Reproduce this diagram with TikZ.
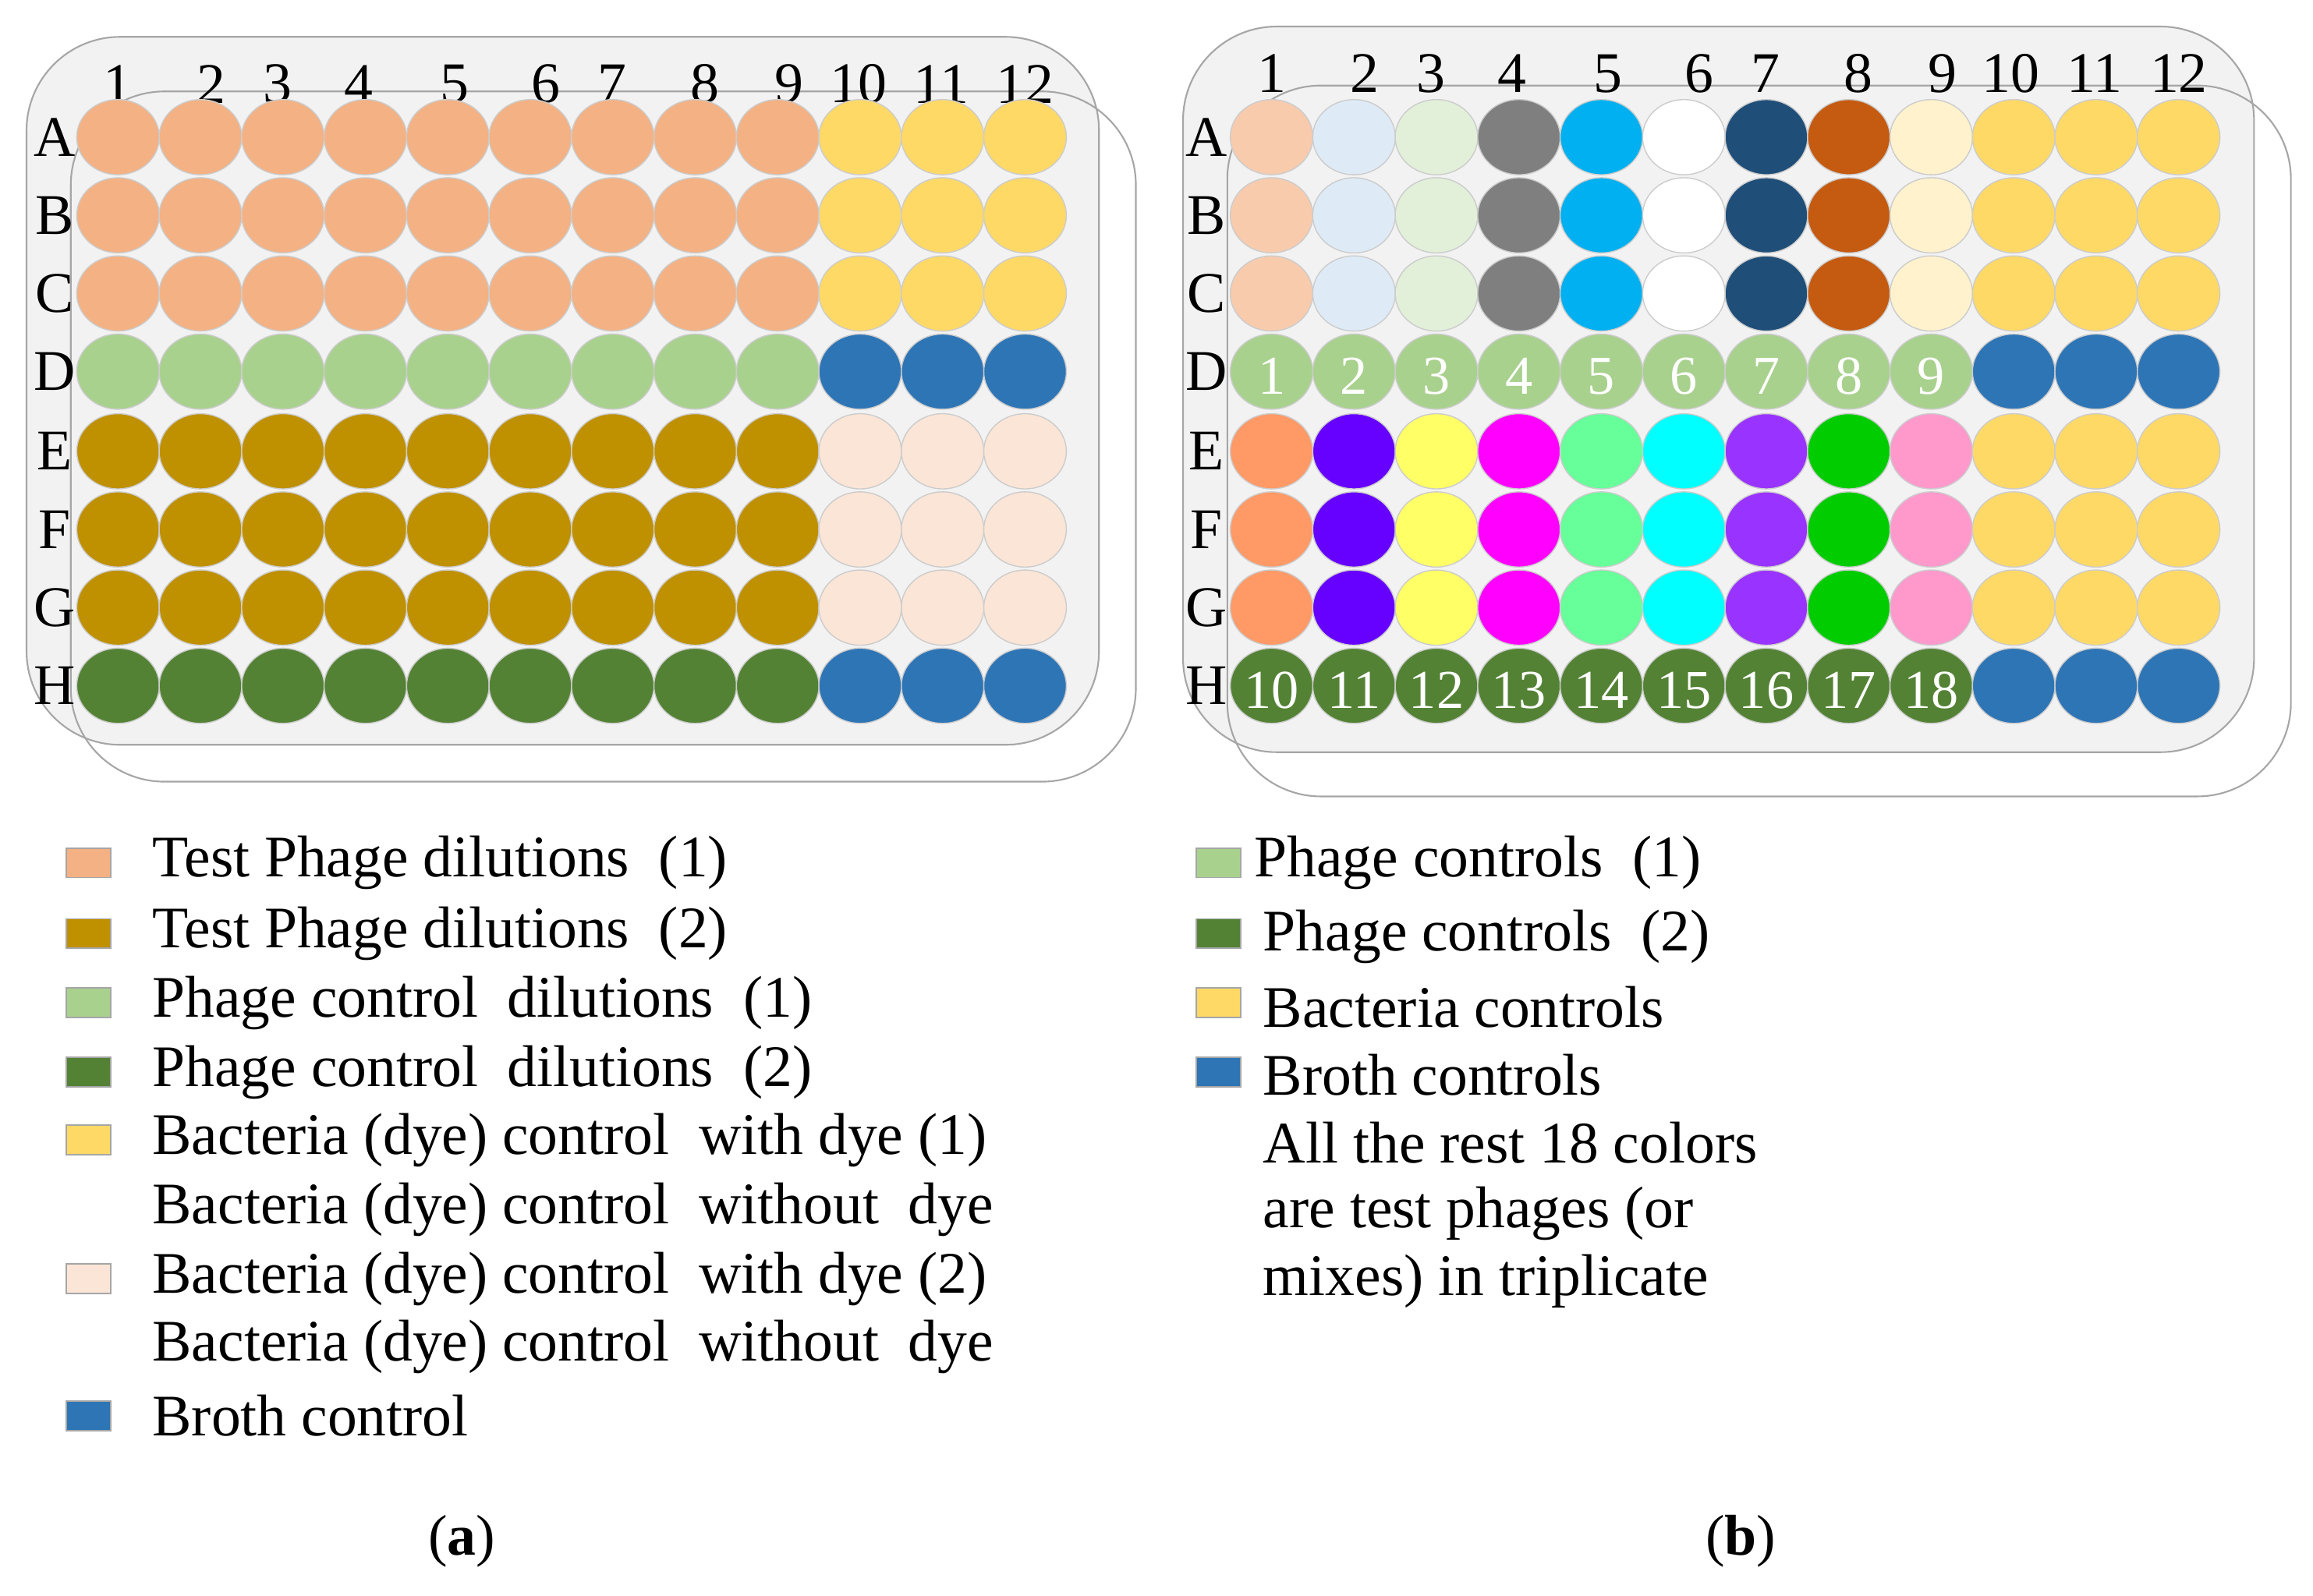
\documentclass[tikz,border=0pt]{standalone}
\usepackage{fontspec}
\setmainfont{Liberation Serif}
\usetikzlibrary{shapes.geometric}
\begin{document}
\begin{tikzpicture}[x=0.018916cm,y=-0.018916cm,
  well/.style={ellipse,draw=gray!40,line width=0.4pt,minimum width=28*2*0.018916cm,minimum height=25.5*2*0.018916cm,inner sep=0pt},
  lab/.style={font=\fontsize{21}{24}\selectfont,inner sep=0pt},
  leg/.style={font=\fontsize{21.5}{24}\selectfont,anchor=west,inner sep=0pt},
  sq/.style={draw=gray!70,line width=0.5pt,minimum width=30*0.018916cm,minimum height=20*0.018916cm,inner sep=0pt},
  wnum/.style={font=\fontsize{20}{22}\selectfont,text=white,inner sep=0pt},
  plate/.style={rounded corners=1.2cm,fill=gray!10,draw=gray!70,line width=0.6pt},
  outl/.style={rounded corners=1.2cm,draw=gray!70,line width=0.6pt}]
\useasboundingbox (0,0) rectangle (1568,1082);
\definecolor{peach}{HTML}{F4B183}\definecolor{gold}{HTML}{FFD966}
\definecolor{lgreen}{HTML}{A9D18E}\definecolor{blue}{HTML}{2E75B6}
\definecolor{mustard}{HTML}{BF9000}\definecolor{pale}{HTML}{FBE5D6}
\definecolor{dgreen}{HTML}{548235}
% ---------- plate (a)
\draw[plate] (18,25) rectangle (745,505);
\draw[outl] (48,62) rectangle (770,530);
\foreach \c/\x in {1/80,2/143,3/188,4/243,5/308,6/370,7/415,8/478,9/535,10/582,11/638,12/695}
  \node[lab] (ca\c) at (\x,57) {\c};
\foreach \r/\y in {A/93,B/146,C/199,D/252,E/306,F/359,G/412,H/465}
  \node[lab] (ra\r) at (37,\y) {\r};
\foreach \r/\y/\ca/\cb in {A/93/peach/gold,B/146/peach/gold,C/199/peach/gold,D/252/lgreen/blue,E/306/mustard/pale,F/359/mustard/pale,G/412/mustard/pale,H/465/dgreen/blue}{
  \foreach \c in {1,...,12}{
    \pgfmathsetmacro\xx{80+(\c-1)*55.9}
    \ifnum\c<10 \node[well,fill=\ca] (wa\r\c) at (\xx,\y) {};
    \else \node[well,fill=\cb] (wa\r\c) at (\xx,\y) {};\fi
  }}
% ---------- plate (b)
\draw[plate] (802,18) rectangle (1528,510);
\draw[outl] (832,58) rectangle (1553,540);
\foreach \c/\x in {1/862,2/925,3/970,4/1025,5/1090,6/1152,7/1197,8/1260,9/1317,10/1363,11/1420,12/1477}
  \node[lab] (cb\c) at (\x,50) {\c};
\foreach \r/\y in {A/93,B/146,C/199,D/252,E/306,F/359,G/412,H/465}
  \node[lab] (rb\r) at (818,\y) {\r};
\foreach \r/\y in {A/93,B/146,C/199}{
  \foreach \c/\col in {1/F8CBAD,2/DEEBF7,3/E2F0D9,4/7F7F7F,5/00B0F0,6/FFFFFF,7/1F4E79,8/C55A11,9/FFF2CC,10/FFD966,11/FFD966,12/FFD966}{
    \pgfmathsetmacro\xx{862+(\c-1)*55.9}
    \definecolor{wc}{HTML}{\col}
    \node[well,fill=wc] (wb\r\c) at (\xx,\y) {};
  }}
\foreach \r/\y in {E/306,F/359,G/412}{
  \foreach \c/\col in {1/FF9966,2/6600FF,3/FFFF66,4/FF00FF,5/66FF99,6/00FFFF,7/9933FF,8/00CC00,9/FF99CC,10/FFD966,11/FFD966,12/FFD966}{
    \pgfmathsetmacro\xx{862+(\c-1)*55.9}
    \definecolor{wc}{HTML}{\col}
    \node[well,fill=wc] (wb\r\c) at (\xx,\y) {};
  }}
\foreach \c in {1,...,12}{
  \pgfmathsetmacro\xx{862+(\c-1)*55.9}
  \pgfmathtruncatemacro\hn{\c+9}
  \ifnum\c<10
    \node[well,fill=lgreen] (wbD\c) at (\xx,252) {};
    \node[wnum] at ([yshift=-3*0.018916cm]wbD\c) {\c};
    \node[well,fill=dgreen] (wbH\c) at (\xx,465) {};
    \node[wnum] at ([yshift=-3*0.018916cm]wbH\c) {\hn};
  \else
    \node[well,fill=blue] (wbD\c) at (\xx,252) {};
    \node[well,fill=blue] (wbH\c) at (\xx,465) {};
  \fi}
% ---------- legend (a)
\foreach \y/\col in {585/peach,633/mustard,680/lgreen,727/dgreen,773/gold,867/pale,960/blue}
  \node[sq,fill=\col] at (60,\y) {};
\node[leg] (la1) at (103,585) {Test Phage dilutions~~(1)};
\node[leg] (la2) at (103,633) {Test Phage dilutions~~(2)};
\node[leg] (la3) at (103,680) {Phage control~~dilutions~~(1)};
\node[leg] (la4) at (103,727) {Phage control~~dilutions~~(2)};
\node[leg] (la5) at (103,773) {Bacteria (dye) control~~with dye (1)};
\node[leg] (la6) at (103,820) {Bacteria (dye) control~~without~~dye};
\node[leg] (la7) at (103,867) {Bacteria (dye) control~~with dye (2)};
\node[leg] (la8) at (103,913) {Bacteria (dye) control~~without~~dye};
\node[leg] (la9) at (103,960) {Broth control};
% ---------- legend (b)
\foreach \y/\col in {585/lgreen,633/dgreen,680/gold,727/blue}
  \node[sq,fill=\col] at (826,\y) {};
\node[leg] (lb1) at (850,585) {Phage controls~~(1)};
\node[leg] (lb2) at (856,635) {Phage controls~~(2)};
\node[leg] (lb3) at (856,683) {Bacteria controls};
\node[leg] (lb4) at (856,729) {Broth controls};
\node[leg] (lb5) at (856,775) {All the rest 18 colors};
\node[leg] (lb6) at (856,823) {are test phages (or};
\node[leg] (lb7) at (856,869) {mixes) in triplicate};
\node[lab] (capa) at (313,1045) {(\textbf{a})};
\node[lab] (capb) at (1180,1045) {(\textbf{b})};
\end{tikzpicture}
\end{document}
